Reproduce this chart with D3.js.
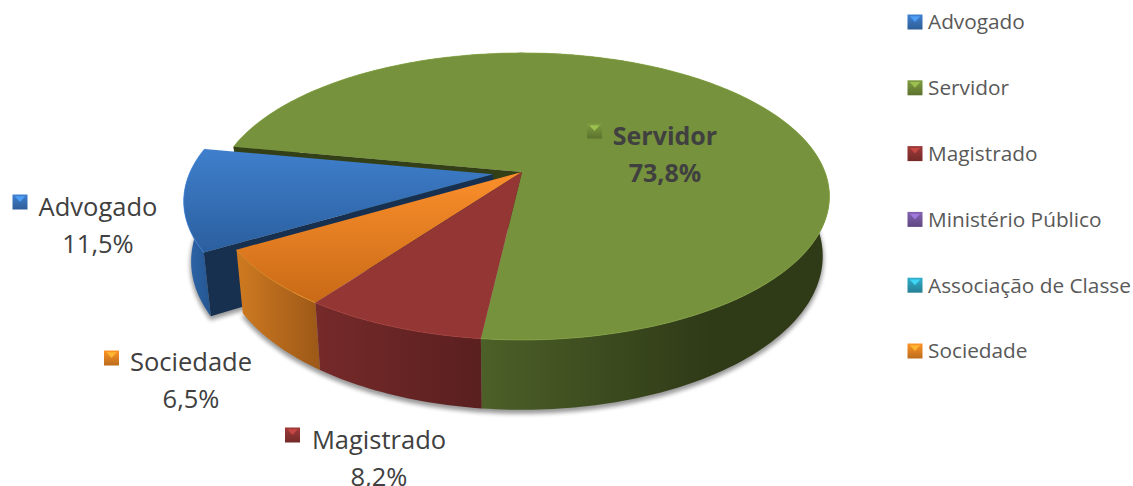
<!DOCTYPE html>
<html>
<head>
<meta charset="utf-8">
<script src="https://cdn.jsdelivr.net/npm/d3@7"></script>
<style>
  html, body { margin: 0; padding: 0; background: #fff; }
  svg { display: block; }
  text { font-family: "Open Sans", "Noto Sans", sans-serif; }
</style>
</head>
<body>
<svg id="chart" width="1133" height="486" role="img" aria-label="Distribuição por categoria"></svg>
<script>
const categories = ['Advogado', 'Servidor', 'Magistrado', 'Ministério Público', 'Associação de Classe', 'Sociedade'];
const values = [11.5, 73.8, 8.2, 0, 0, 6.5];
const valueLabels = ['11,5%', '73,8%', '8,2%', '', '', '6,5%'];
const sliceColors = ['#3b78c2', '#76923c', '#943634', '#7a5ba6', '#2fa3bf', '#f08a24'];

const width = 1133;
const height = 486;
const pieCenter = { x: 522, y: 172 };
const radius = 303;      // horizontal radius of the top face
const tilt = 0.46;       // vertical squash
const persp = 0.17;      // far side shrinks, near side grows
const depth = 58;        // wall height
const converge = 0.022;  // bottom face is a bit narrower than the top one
const startAngle = 239.4 * Math.PI / 180;
const explode = 0.097;   // Advogado is pulled out by this share of the radius
const explodedIndex = 0;

const svg = d3.select('#chart').attr('viewBox', `0 0 ${width} ${height}`);
const defs = svg.append('defs');

const pie = d3.pie().sort(null).value((d) => d)
  .startAngle(startAngle).endAngle(startAngle + 2 * Math.PI);
const slices = pie(values);

// Projects a point of the disc to the page. r in radius units, z 0 = top, 1 = bottom.
function project(theta, r, z, shift = [0, 0]) {
  const px = r * Math.sin(theta) + shift[0];
  const py = r * Math.cos(theta) + shift[1];
  const w = 1 + persp * py;
  return [
    pieCenter.x + ((radius * px) / w) * (1 - converge * z),
    pieCenter.y - (radius * tilt * py) / w + (depth * z) / w
  ];
}

function arcPoints(a0, a1, z, shift) {
  const n = Math.max(2, Math.ceil(Math.abs(a1 - a0) / 0.02));
  return d3.range(n + 1).map((i) => project(a0 + ((a1 - a0) * i) / n, 1, z, shift));
}

const line = d3.line();
const closed = (pts) => line(pts) + 'Z';

function shiftOf(slice, i) {
  if (i !== explodedIndex) return [0, 0];
  const mid = (slice.startAngle + slice.endAngle) / 2;
  return [explode * Math.sin(mid), explode * Math.cos(mid)];
}

function linearGradient(id, vertical, stops) {
  const g = defs.append('linearGradient').attr('id', id);
  if (vertical) g.attr('x1', 0).attr('y1', 0).attr('x2', 0).attr('y2', 1);
  stops.forEach(([offset, color]) => g.append('stop').attr('offset', offset).attr('stop-color', color));
  return g;
}

linearGradient('topBlue', true, [[0, '#3f7fcc'], [1, '#2b5f9f']]);
linearGradient('topOrange', true, [[0, '#fb8f2b'], [1, '#c96a17']]);
// the green wall only shows from the red seam to the right edge
const greenSeamX = project(slices[1].endAngle, 1, 0)[0];
linearGradient('wallGreen', false, [[0, '#4c6028'], [1, '#2f3a17']])
  .attr('gradientUnits', 'userSpaceOnUse')
  .attr('x1', greenSeamX).attr('x2', greenSeamX + 230);
linearGradient('wallRed', false, [[0, '#762a2a'], [1, '#5a1f1f']]);
linearGradient('wallOrange', false, [[0, '#cf7a20'], [1, '#9c5818']]);
linearGradient('wallBlue', false, [[0, '#2f68ad'], [1, '#245590']]);
defs.append('filter').attr('id', 'soft').attr('x', '-10%').attr('y', '-10%').attr('width', '120%').attr('height', '130%')
  .append('feGaussianBlur').attr('stdDeviation', 2);

const topFill = ['url(#topBlue)', sliceColors[1], sliceColors[2], sliceColors[3], sliceColors[4], 'url(#topOrange)'];
const wallFill = ['url(#wallBlue)', 'url(#wallGreen)', 'url(#wallRed)', '#000', '#000', 'url(#wallOrange)'];
const innerWall = ['#17304f', '#333f17', '#5a1f1f', '#000', '#000', '#9c5818'];

const visible = slices.map((d, i) => ({ ...d, i, shift: shiftOf(d, i) })).filter((d) => d.value > 0);

// soft shadow under the outer walls
const shadow = svg.append('g').attr('filter', 'url(#soft)').attr('fill', '#000').attr('stroke', '#000')
  .attr('stroke-width', 2).attr('opacity', 0.4);
visible.forEach((d) => {
  shadow.append('path')
    .attr('transform', 'translate(0,3)')
    .attr('d', closed([...arcPoints(d.startAngle, d.endAngle, 1, d.shift), project(0, 0, 1, d.shift)]));
});

function drawSlice(d) {
  const g = svg.append('g').attr('class', 'slice');
  const center = project(0, 0, 0, d.shift);
  const centerLow = project(0, 0, 1, d.shift);
  // outer wall
  g.append('path').attr('fill', wallFill[d.i])
    .attr('d', closed([...arcPoints(d.startAngle, d.endAngle, 0, d.shift), ...arcPoints(d.endAngle, d.startAngle, 1, d.shift)]));
  // cut face, only the blue and green ones can be seen through the gap
  if (d.i === 0 || d.i === 1) {
    g.append('path').attr('fill', innerWall[d.i])
      .attr('d', closed([center, project(d.startAngle, 1, 0, d.shift), project(d.startAngle, 1, 1, d.shift), centerLow]));
  }
  // top face
  g.append('path').attr('fill', topFill[d.i])
    .attr('d', closed([center, ...arcPoints(d.startAngle, d.endAngle, 0, d.shift)]));
  // thin bevel on the rim
  g.append('path').attr('fill', 'none').attr('stroke', d3.color(sliceColors[d.i]).brighter(0.5)).attr('stroke-width', 1)
    .attr('stroke-opacity', 0.6)
    .attr('d', line(arcPoints(d.startAngle, d.endAngle, 0, d.shift)));
}

// back to front: green first, then blue, then the front slices
[1, 0, 5, 2].forEach((i) => drawSlice(visible.find((d) => d.i === i)));

function marker(parent, x, y, size, color) {
  const id = `mk-${color.slice(1)}`;
  if (defs.select(`#${id}`).empty()) {
    linearGradient(id, true, [[0, d3.color(color).brighter(0.2)], [1, d3.color(color).darker(0.7)]]);
  }
  parent.append('rect').attr('x', x).attr('y', y).attr('width', size).attr('height', size)
    .attr('fill', `url(#${id})`);
  parent.append('path').attr('fill', d3.color(color).brighter(0.9)).attr('opacity', 0.85)
    .attr('d', closed([[x + size * 0.15, y + size * 0.12], [x + size * 0.85, y + size * 0.12], [x + size * 0.5, y + size * 0.5]]));
}

// legend
const legendY = d3.scalePoint().domain(categories).range([22, 351]);
const legend = svg.append('g').attr('class', 'legend');
categories.forEach((name, i) => {
  const y = legendY(name);
  marker(legend, 907.5, y - 7.5, 15, sliceColors[i]);
  legend.append('text').attr('x', 928).attr('y', y).attr('dy', '0.36em')
    .attr('font-size', 20.8).attr('fill', '#595959').text(name);
});

// data labels, placed by hand like the original
const dataLabelPos = [
  { i: 0, x: 98, y: 207, mx: 12.5, my: 194.5 },
  { i: 1, x: 665, y: 136, mx: 587, my: 123.5, bold: true },
  { i: 2, x: 379, y: 440, mx: 285, my: 427.5 },
  { i: 5, x: 191, y: 362, mx: 104, my: 350.5 }
];
const labels = svg.append('g').attr('class', 'data-labels');
dataLabelPos.forEach((p) => {
  marker(labels, p.mx, p.my, 15, sliceColors[p.i]);
  const t = labels.append('text').attr('text-anchor', 'middle').attr('font-size', p.bold ? 25 : 25.5)
    .attr('font-weight', p.bold ? 700 : 400).attr('fill', '#404040');
  t.append('tspan').attr('x', p.x).attr('y', p.y).attr('dy', '0.36em').text(categories[p.i]);
  t.append('tspan').attr('x', p.x).attr('y', p.y + 37).attr('dy', '0.36em').text(valueLabels[p.i]);
});
</script>
</body>
</html>
